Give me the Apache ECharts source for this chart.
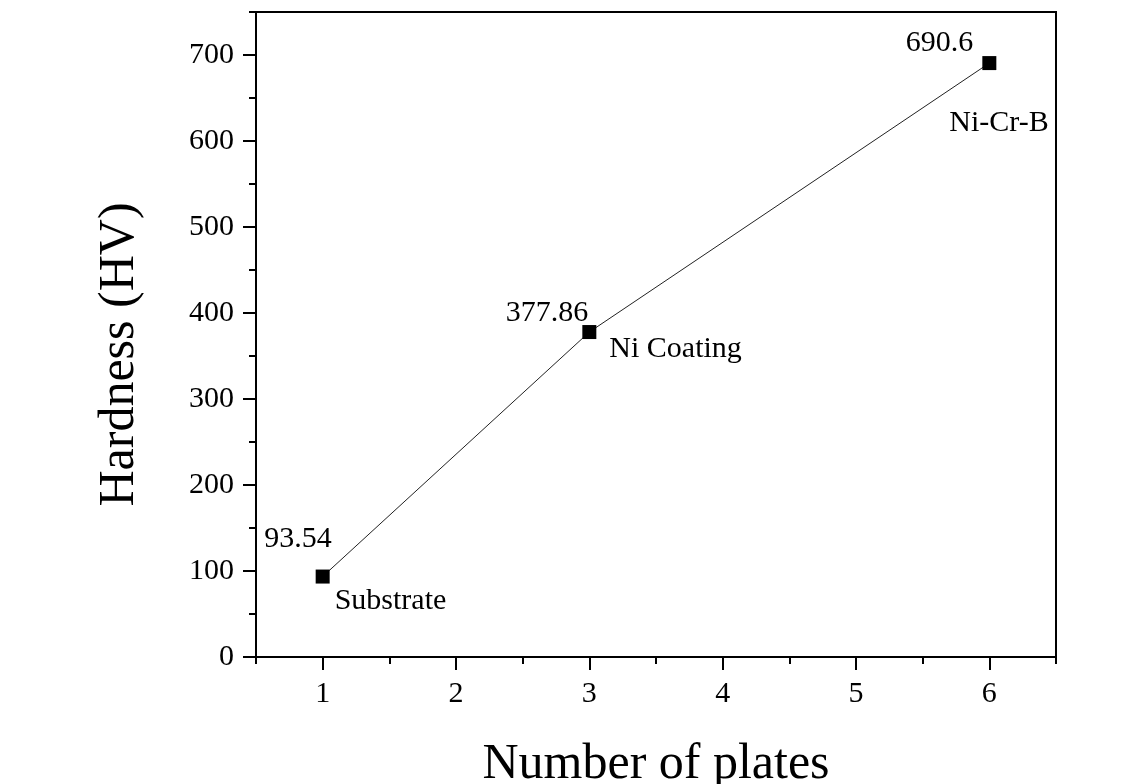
<!DOCTYPE html>
<html>
<head>
<meta charset="utf-8">
<script src="https://cdn.jsdelivr.net/npm/echarts@6/dist/echarts.min.js"></script>
<style>
  html, body { margin: 0; padding: 0; background: #fff; }
  #chart { width: 1140px; height: 784px; }
</style>
</head>
<body>
<div id="chart"></div>
<script>
  // data
  const plates = [1, 3, 6]
  const hardness = [93.54, 377.86, 690.6]
  const names = ['Substrate', 'Ni Coating', 'Ni-Cr-B']
  const xMajorTicks = [1, 2, 3, 4, 5, 6]
  const xMinorTicks = [0.5, 1.5, 2.5, 3.5, 4.5, 5.5, 6.5]
  const yMajorTicks = [0, 100, 200, 300, 400, 500, 600, 700]
  const yMinorTicks = [50, 150, 250, 350, 450, 550, 650, 750]

  // where each annotation sits relative to its point
  const valueOffsets = [[9, -22], [-1, -4], [-16, -5]]
  const nameOffsets = [[12, 10], [20, 2], [-40, 45]]

  const font = 'Liberation Serif, Times New Roman, serif'
  const chart = echarts.init(document.getElementById('chart'))

  const baseX = {
    type: 'value',
    min: 0.5,
    max: 6.5,
    splitLine: { show: false }
  }
  const baseY = {
    type: 'value',
    min: 0,
    max: 750,
    splitLine: { show: false }
  }

  const option = {
    animation: false,
    backgroundColor: '#fff',
    grid: {
      left: 256,
      right: 84,
      top: 12,
      bottom: 127,
      outerBoundsMode: 'none',
      show: true,
      borderColor: '#000',
      borderWidth: 2
    },
    xAxis: [
      Object.assign({}, baseX, {
        name: 'Number of plates',
        nameLocation: 'middle',
        nameGap: 83,
        nameTextStyle: { fontFamily: font, fontSize: 50, color: '#000' },
        axisLine: { lineStyle: { color: '#000', width: 2 } },
        axisTick: { customValues: xMajorTicks, length: 13, lineStyle: { color: '#000', width: 2 } },
        axisLabel: { customValues: xMajorTicks, margin: 22, fontFamily: font, fontSize: 30, color: '#000' }
      }),
      Object.assign({}, baseX, {
        position: 'bottom',
        axisLine: { show: false },
        axisTick: { customValues: xMinorTicks, length: 7, lineStyle: { color: '#000', width: 2 } },
        axisLabel: { show: false }
      })
    ],
    yAxis: [
      Object.assign({}, baseY, {
        name: 'Hardness (HV)',
        nameLocation: 'middle',
        nameGap: 111,
        nameTextStyle: {
          fontFamily: font,
          fontSize: 50,
          color: '#000',
          padding: [0, 40, 0, 0]
        },
        axisLine: { lineStyle: { color: '#000', width: 2 } },
        axisTick: { customValues: yMajorTicks, length: 13, lineStyle: { color: '#000', width: 2 } },
        axisLabel: { customValues: yMajorTicks, margin: 22, fontFamily: font, fontSize: 30, color: '#000' }
      }),
      Object.assign({}, baseY, {
        position: 'left',
        axisLine: { show: false },
        axisTick: { customValues: yMinorTicks, length: 7, lineStyle: { color: '#000', width: 2 } },
        axisLabel: { show: false }
      })
    ],
    series: [
      {
        type: 'line',
        data: plates.map(function (p, i) {
          return {
            value: [p, hardness[i]],
            label: { offset: valueOffsets[i] }
          }
        }),
        symbol: 'rect',
        symbolSize: 14,
        itemStyle: { color: '#000' },
        lineStyle: { color: '#222', width: 1 },
        label: {
          show: true,
          position: 'inside',
          align: 'right',
          verticalAlign: 'bottom',
          fontFamily: font,
          fontSize: 30,
          color: '#000',
          textBorderWidth: 0,
          formatter: function (p) { return String(p.value[1]) }
        },
        z: 3
      },
      {
        type: 'scatter',
        data: plates.map(function (p, i) {
          return {
            value: [p, hardness[i]],
            name: names[i],
            label: { offset: nameOffsets[i] }
          }
        }),
        symbolSize: 0,
        silent: true,
        itemStyle: { color: '#000', opacity: 1 },
        label: {
          show: true,
          position: 'inside',
          align: 'left',
          verticalAlign: 'top',
          fontFamily: font,
          fontSize: 30,
          color: '#000',
          textBorderWidth: 0,
          formatter: '{b}'
        },
        z: 4
      }
    ]
  }

  chart.setOption(option)
</script>
</body>
</html>
